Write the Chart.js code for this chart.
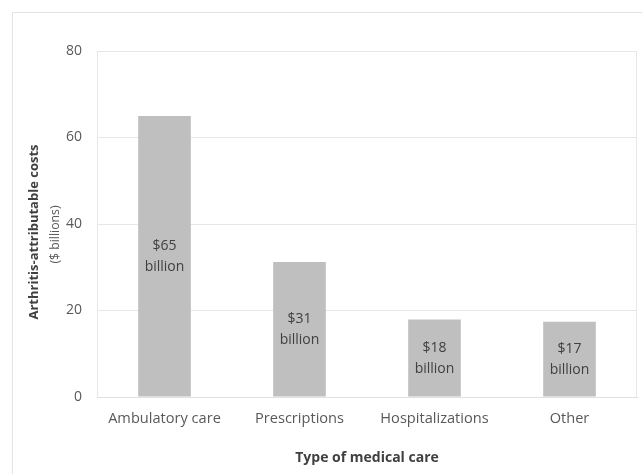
<!DOCTYPE html>
<html>
<head>
<meta charset="utf-8">
<script src="https://cdn.jsdelivr.net/npm/chart.js@4/dist/chart.umd.min.js"></script>
<style>
html,body{margin:0;padding:0;background:#fff;}
#wrap{width:642px;height:474px;position:relative;}
</style>
</head>
<body>
<div id="wrap"><canvas id="c" width="642" height="474"></canvas></div>
<script>
const categories = ['Ambulatory care', 'Prescriptions', 'Hospitalizations', 'Other'];
const costs = [65, 31.2, 17.9, 17.4];
const yTicks = [0, 20, 40, 60, 80];
const xTitle = 'Type of medical care';
const yTitleMain = 'Arthritis-attributable costs';
const yTitleSub = '($ billions)';

const FONT = '"Open Sans", Lato, sans-serif';

const framePlugin = {
  id: 'frame',
  beforeDraw(chart) {
    const ctx = chart.ctx;
    ctx.save();
    ctx.fillStyle = '#ffffff';
    ctx.fillRect(0, 0, chart.width, chart.height);
    ctx.strokeStyle = '#e3e3e3';
    ctx.lineWidth = 1;
    ctx.strokeRect(12.5, 12.5, chart.width + 20, chart.height + 20);
    ctx.restore();
  },
  afterDraw(chart) {
    const ctx = chart.ctx;
    const a = chart.chartArea;
    ctx.save();
    ctx.strokeStyle = '#e6e6e6';
    ctx.lineWidth = 1;
    ctx.beginPath();
    ctx.moveTo(Math.round(a.right) - 0.5, a.top);
    ctx.lineTo(Math.round(a.right) - 0.5, a.bottom);
    ctx.moveTo(Math.round(a.left) + 0.5, a.top);
    ctx.lineTo(Math.round(a.left) + 0.5, a.bottom);
    ctx.stroke();
    // y-axis title (two lines, different weights)
    const cy = (a.top + a.bottom) / 2 + 8;
    ctx.translate(34, cy);
    ctx.rotate(-Math.PI / 2);
    ctx.textAlign = 'center';
    ctx.textBaseline = 'middle';
    ctx.fillStyle = '#404040';
    ctx.font = 'bold 13px ' + FONT;
    ctx.fillText(yTitleMain, 0, 0);
    ctx.fillStyle = '#595959';
    ctx.font = '12.3px ' + FONT;
    ctx.fillText(yTitleSub, -2.5, 21);
    ctx.restore();
  }
};

const barLabelPlugin = {
  id: 'barLabels',
  afterDatasetsDraw(chart) {
    const ctx = chart.ctx;
    const meta = chart.getDatasetMeta(0);
    ctx.save();
    ctx.fillStyle = '#404040';
    ctx.font = '14px ' + FONT;
    ctx.textAlign = 'center';
    ctx.textBaseline = 'middle';
    meta.data.forEach((bar, i) => {
      const v = chart.data.datasets[0].data[i];
      const mid = (bar.y + bar.base) / 2;
      ctx.fillText('$' + Math.round(v), bar.x, mid - 10);
      ctx.fillText('billion', bar.x, mid + 10.5);
    });
    ctx.restore();
  }
};

new Chart(document.getElementById('c'), {
  type: 'bar',
  data: {
    labels: categories,
    datasets: [{
      data: costs,
      backgroundColor: '#bfbfbf',
      borderWidth: 0,
      categoryPercentage: 1,
      barPercentage: 0.39
    }]
  },
  options: {
    responsive: false,
    animation: false,
    devicePixelRatio: 1,
    layout: { padding: { left: 0, right: 5, top: 51, bottom: 0 } },
    plugins: { legend: { display: false }, tooltip: { enabled: false } },
    scales: {
      x: {
        grid: { display: false, drawTicks: false },
        border: { display: true, color: '#e0e0e0' },
        ticks: { color: '#595959', font: { family: FONT, size: 14.6 }, padding: 13, maxRotation: 0 },
        title: {
          display: true, text: xTitle, color: '#404040',
          font: { family: FONT, size: 14, weight: 'bold' },
          padding: { top: 0, bottom: 8 }
        },
        afterFit(scale) { scale.height = 77; }
      },
      y: {
        min: 0, max: 80,
        afterBuildTicks(scale) { scale.ticks = yTicks.map(v => ({ value: v })); },
        grid: { color: '#e6e6e6', drawTicks: false },
        border: { display: false },
        ticks: { color: '#595959', font: { family: FONT, size: 14 }, padding: 15 },
        afterFit(scale) { scale.width = 97; }
      }
    }
  },
  plugins: [framePlugin, barLabelPlugin]
});
</script>
</body>
</html>
